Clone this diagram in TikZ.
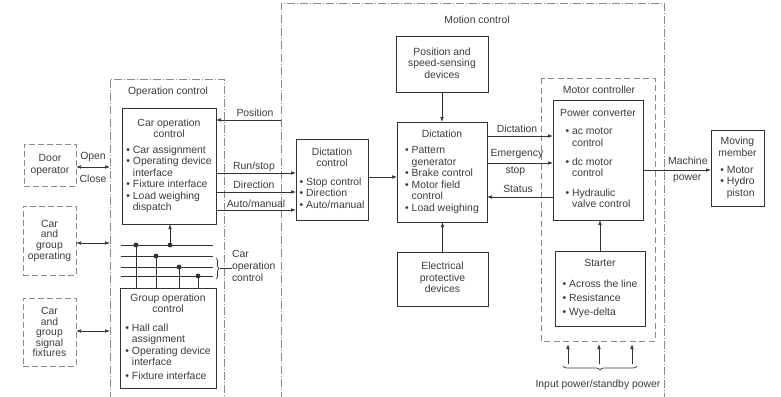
\documentclass[tikz,border=0pt]{standalone}
\usepackage{fontspec}
\setmainfont{Liberation Sans}
\usetikzlibrary{arrows.meta,decorations.pathreplacing,calc}
\definecolor{inkc}{HTML}{333333}
\definecolor{txtc}{HTML}{3C3C3C}
\definecolor{frmc}{HTML}{8A8A8A}
\newcommand{\myb}{\textbullet\ }
\newcommand{\myc}{\phantom{\textbullet\ }}
\begin{document}
\begin{tikzpicture}[x=1pt,y=-1pt,
  every node/.style={font=\fontsize{10.4}{11.5}\selectfont,text=txtc,inner sep=0pt,outer sep=0pt},
  blk/.style={draw=inkc,line width=1pt},
  extbox/.style={draw=frmc,line width=0.7pt,dash pattern=on 6pt off 3pt,align=center},
  frameline/.style={draw=frmc,line width=0.7pt,dash pattern=on 8pt off 2pt on 1pt off 2pt},
  conn/.style={draw=inkc,line width=0.7pt,-{Latex[length=5pt,width=3.6pt]}},
  dconn/.style={draw=inkc,line width=0.7pt,{Latex[length=5pt,width=3.6pt]}-{Latex[length=5pt,width=3.6pt]}},
  plain/.style={draw=inkc,line width=0.7pt},
  dotc/.style={fill=inkc}
]
\useasboundingbox (0,0) rectangle (781,396);
\fill[white] (0,0) rectangle (781,396);
\clip (0,0) rectangle (781,396);

% frames
\draw[frameline] (110,400) -- (110,79) -- (224,79) -- (224,400);
\draw[frameline] (281,400) -- (281,3) -- (664,3) -- (664,400);
\draw[draw=frmc,line width=0.7pt,dash pattern=on 6pt off 3.5pt] (541,78) rectangle (655,341);

\node (oplab) at (168,92) {Operation control};
\node (mclab) at (477,20) {Motion control};
\node (mtlab) at (599,90) {Motor controller};

% external boxes
\node[extbox,minimum width=52pt,minimum height=42pt,font=\fontsize{10.4}{11.5}\selectfont] (door) at (50,165) {Door\\operator};
\node[extbox,minimum width=53pt,minimum height=69pt,font=\fontsize{10.4}{10.7}\selectfont] (cgop) at (49.5,240.5) {Car\\and\\group\\operating};
\node[extbox,minimum width=53pt,minimum height=68pt,font=\fontsize{10.4}{10.5}\selectfont] (cgsig) at (49.5,332) {Car\\and\\group\\signal\\fixtures};

% operation control boxes
\node[blk,minimum width=94pt,minimum height=116pt] (carop) at (169,166) {\begin{tabular}{@{}c@{}}Car operation\\control\\[4pt]\begin{tabular}[t]{@{}l@{}}\myb Car assignment\\\myb Operating device\\\myc interface\\\myb Fixture interface\\\myb Load weighing\\\myc dispatch\end{tabular}\end{tabular}};
\node[blk,minimum width=96pt,minimum height=100pt] (grpop) at (168,338) {\begin{tabular}{@{}c@{}}Group operation\\control\\[7pt]\begin{tabular}[t]{@{}l@{}}\myb Hall call\\\myc assignment\\\myb Operating device\\\myc interface\\[2pt]\myb Fixture interface\end{tabular}\end{tabular}};

% motion control boxes
\node[blk,minimum width=72pt,minimum height=81pt] (dictctl) at (332,179.5) {\begin{tabular}{@{}c@{}}Dictation\\control\\[7pt]\begin{tabular}[t]{@{}l@{}}\myb Stop control\\\myb Direction\\\myb Auto/manual\end{tabular}\end{tabular}};
\node[blk,minimum width=92pt,minimum height=55pt] (possens) at (442,64.5) {\begin{tabular}{@{}c@{}}Position and\\speed-sensing\\devices\end{tabular}};
\node[blk,minimum width=90pt,minimum height=100pt] (dict) at (442,172) {\begin{tabular}{@{}c@{}}Dictation\\[5pt]\begin{tabular}[t]{@{}l@{}}\myb Pattern\\\myc generator\\\myb Brake control\\\myb Motor field\\\myc control\\\myb Load weighing\end{tabular}\end{tabular}};
\node[blk,minimum width=91pt,minimum height=54pt] (elec) at (442.5,279) {\begin{tabular}{@{}c@{}}Electrical\\protective\\devices\end{tabular}};

% motor controller boxes
\node[blk,minimum width=90pt,minimum height=120pt] (powconv) at (598,160) {\begin{tabular}{@{}c@{}}Power converter\\[6.5pt]\begin{tabular}[t]{@{}l@{}}\myb ac motor\\\myc control\\[7.5pt]\myb dc motor\\\myc control\\[8pt]\myb Hydraulic\\\myc valve control\end{tabular}\end{tabular}};
\node[blk,minimum width=90pt,minimum height=75pt] (starter) at (600,288.5) {\begin{tabular}{@{}c@{}}Starter\\[9.5pt]\begin{tabular}[t]{@{}l@{}}\myb Across the line\\[2.5pt]\myb Resistance\\[2.5pt]\myb Wye-delta\end{tabular}\end{tabular}};
\node[blk,minimum width=53pt,minimum height=76pt] (moving) at (737.5,168) {\begin{tabular}{@{}c@{}}Moving\\member\\[5.5pt]\begin{tabular}[t]{@{}l@{}}\myb Motor\\\myb Hydro\\\myc piston\end{tabular}\end{tabular}};

% coordinates
\coordinate (opA) at (110,167);
\coordinate (opB) at (110,243);
\coordinate (opC) at (110,331);
\coordinate (mfP) at (281,120);
\coordinate (rRun) at (0,173);
\coordinate (rDir) at (0,192);
\coordinate (rAut) at (0,210);
\coordinate (rDc) at (0,177);
\coordinate (rDi) at (0,136);
\coordinate (rEm) at (0,163);
\coordinate (rSt) at (0,197);
\coordinate (rMp) at (0,170);

% left connectors
\draw[dconn] (door.east |- opA) -- (opA)
  node[midway,yshift=10pt] (lopen) {Open}
  node[midway,yshift=-12pt] (lclose) {Close};
\draw[dconn] (cgop.east |- opB) -- (opB);
\draw[dconn] (cgsig.east |- opC) -- (opC);

% operation <-> motion
\draw[conn] (mfP) -- (mfP -| carop.east) node[pos=0.4,yshift=7pt] (lpos) {Position};
\draw[conn] (carop.east |- rRun) -- (dictctl.west |- rRun) node[pos=0.475,yshift=6.5pt] (lrun) {Run/stop};
\draw[conn] (carop.east |- rDir) -- (dictctl.west |- rDir) node[pos=0.475,yshift=7pt] (ldir) {Direction};
\draw[conn] (carop.east |- rAut) -- (dictctl.west |- rAut) node[pos=0.5,yshift=6.5pt] (laut) {Auto/manual};

% bus
\foreach \yy [count=\i] in {245,256,267,276}{
  \coordinate (bl\i) at (121,\yy);
  \coordinate (br\i) at (213,\yy);
  \draw[plain] (bl\i) -- (br\i);
}
\coordinate (d1) at (136,245);
\coordinate (d2) at (170,245);
\coordinate (d3) at (156,256);
\coordinate (d4) at (179,267);
\coordinate (d5) at (198,276);
\draw[plain] (d1) -- (d1 |- grpop.north);
\draw[plain] (d3) -- (d3 |- grpop.north);
\draw[plain] (d4) -- (d4 |- grpop.north);
\draw[plain] (d5) -- (d5 |- grpop.north);
\draw[conn] (d2) -- (d2 |- carop.south);
\foreach \dd in {d1,d2,d3,d4,d5}{\fill[dotc] (\dd) circle (2.4pt);}

\coordinate (brT) at (216,258);
\coordinate (brB) at (216,279);
\draw[plain,decorate,decoration={brace,amplitude=3pt}] (brT) -- (brB);
\coordinate (brTip) at (219.5,268);
\node[anchor=west,align=left,font=\fontsize{10.4}{12}\selectfont] (cocl) at (232,266) {Car\\operation\\control};
\draw[plain] (brTip) -- (cocl.west |- brTip);

% motion control connectors
\draw[conn] (dictctl.east |- rDc) -- (dict.west |- rDc);
\draw[conn] (possens.south) -- (dict.north);
\draw[conn] (elec.north) -- (elec.north |- dict.south);
\draw[conn] (dict.east |- rDi) -- (powconv.west |- rDi) node[pos=0.455,yshift=7pt] (ldic) {Dictation};
\draw[conn] (dict.east |- rEm) -- (powconv.west |- rEm)
  node[pos=0.455,yshift=9pt] (lem) {Emergency}
  node[pos=0.43,yshift=-8pt] (lstop) {stop};
\draw[conn] (powconv.west |- rSt) -- (dict.east |- rSt) node[pos=0.53,yshift=8pt] (lsta) {Status};
\draw[conn] (powconv.east |- rMp) -- (moving.west |- rMp)
  node[pos=0.66,yshift=9pt] (lmach) {Machine}
  node[pos=0.65,yshift=-9pt] (lpow) {power};
\draw[conn] (starter.north) -- (starter.north |- powconv.south);

% input power
\foreach \xx [count=\i] in {568,599,632}{
  \coordinate (ins\i) at (\xx,364);
  \coordinate (ine\i) at (\xx,344);
  \draw[conn] (ins\i) -- (ine\i);
}
\coordinate (ibR) at (637,366);
\coordinate (ibL) at (563,366);
\draw[plain,decorate,decoration={brace,amplitude=4pt}] (ibR) -- (ibL);
\node (inlab) at (598,385) {Input power/standby power};
\end{tikzpicture}
\end{document}
